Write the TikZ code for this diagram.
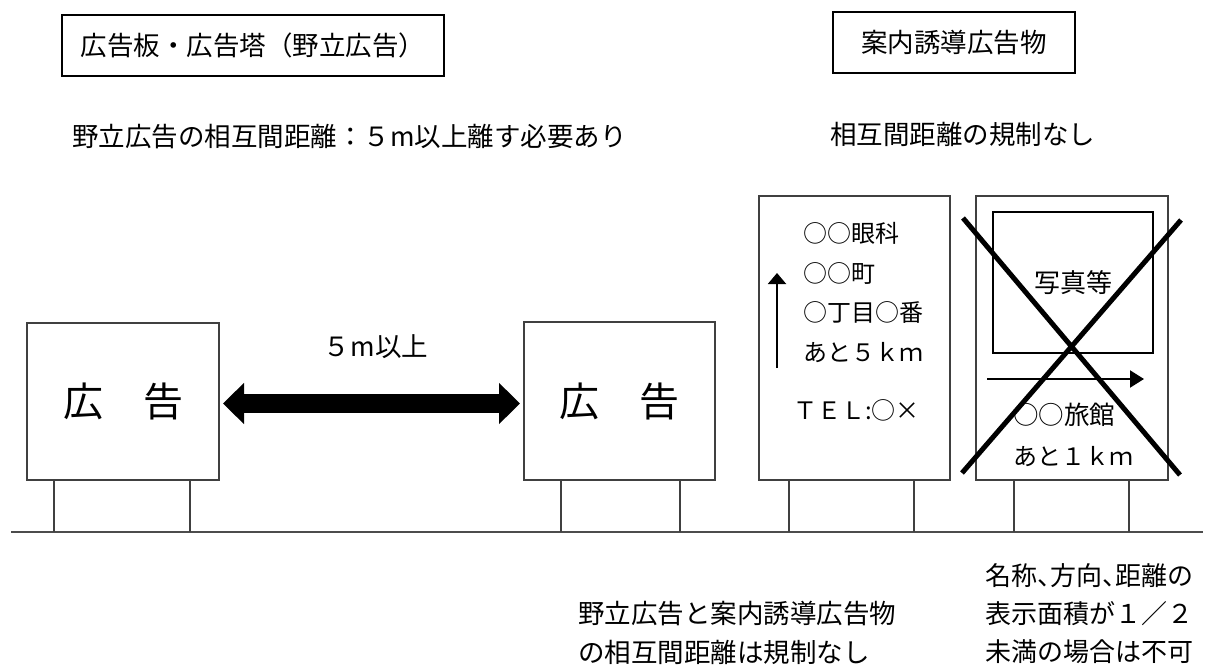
\documentclass[tikz,border=0pt]{standalone}
\usepackage{fontspec}
\setmainfont{Noto Sans CJK JP}
\usetikzlibrary{arrows.meta}
\begin{document}
\begin{tikzpicture}[x=1pt,y=-1pt,
  titlebox/.style={draw=black,line width=2pt,inner sep=0pt,font=\fontsize{26.5}{30}\selectfont},
  board/.style={draw=black!75,line width=1.3pt,inner sep=0pt},
  leg/.style={draw=black!75,line width=1.2pt},
  txt/.style={inner sep=0pt,font=\fontsize{26.5}{30}\selectfont},
  signtxt/.style={inner sep=0pt,font=\fontsize{24}{28}\selectfont,anchor=west},
  bigtxt/.style={inner sep=0pt,font=\fontsize{40}{44}\selectfont},
  thin arrow/.style={line width=2pt}]
\useasboundingbox (0,0) rectangle (1209,671);
% title boxes
\node[titlebox,minimum width=382pt,minimum height=61pt] (t1) at (253,45.5) {広告板・広告塔（野立広告）};
\node[titlebox,minimum width=242pt,minimum height=61pt] (t2) at (954,42.5) {案内誘導広告物};
\node[txt,anchor=west] (h1) at (72,137) {野立広告の相互間距離：５m以上離す必要あり};
\node[txt,anchor=west] (h2) at (830,134) {相互間距離の規制なし};
% ground
\coordinate (g0) at (11,532);
\coordinate (g1) at (1203,532);
\draw[draw=black!70,line width=1.5pt] (g0) -- (g1);
% sign 1
\node[board,minimum width=192pt,minimum height=157pt] (s1) at (123,401.5) {};
\node[bigtxt] at (s1.center) {広　告};
\draw[leg] (54,480) -- (54,532) (190,480) -- (190,532);
% sign 2
\node[board,minimum width=191pt,minimum height=158pt] (s2) at (619.5,401) {};
\node[bigtxt] at (s2.center) {広　告};
\draw[leg] (561,480) -- (561,532) (680,480) -- (680,532);
% double arrow
\coordinate (aL) at (223,403.5);
\coordinate (aR) at (520,403.5);
\draw[line width=19pt,{Triangle[length=21pt,width=40pt]}-{Triangle[length=21pt,width=40pt]}] (aL) -- (aR);
\node[txt] (d) at (376,347) {５m以上};
% sign 3
\node[board,minimum width=191pt,minimum height=284pt] (s3) at (854.5,338) {};
\draw[leg] (789,480) -- (789,532) (914,480) -- (914,532);
\node[signtxt] (l1) at (803,233) {○○眼科};
\node[signtxt] (l2) at (803,273) {○○町};
\node[signtxt] (l3) at (803,313) {○丁目○番};
\node[signtxt] (l4) at (803,353) {あと５ｋｍ};
\node[signtxt] (l5) at (793,410) {ＴＥＬ:○×};
\coordinate (u0) at (777,368);
\coordinate (u1) at (777,273);
\draw[thin arrow,-{Triangle[length=11pt,width=18pt]}] (u0) -- (u1);
% sign 4
\node[board,minimum width=192pt,minimum height=284pt] (s4) at (1072,338) {};
\draw[leg] (1014,480) -- (1014,532) (1129,480) -- (1129,532);
\node[draw=black,line width=2pt,minimum width=160pt,minimum height=141pt,inner sep=0pt] (ph) at (1073,282.5) {};
\node[txt,font=\fontsize{26}{30}\selectfont] (ph t) at (1073,283) {写真等};
\coordinate (r0) at (987,379);
\coordinate (r1) at (1144,379);
\draw[thin arrow,-{Triangle[length=14pt,width=17pt]}] (r0) -- (r1);
\node[signtxt,font=\fontsize{25.5}{28}\selectfont] (m1) at (1013,415) {○○旅館};
\node[signtxt] (m2) at (1013,457) {あと１ｋｍ};
\coordinate (x1) at (963,218);
\coordinate (x2) at (1180,475);
\coordinate (x3) at (1181,220);
\coordinate (x4) at (962,473);
\draw[line width=5pt] (x1) -- (x2) (x3) -- (x4);
% bottom notes
\node[txt,anchor=west] (b1) at (578,614) {野立広告と案内誘導広告物};
\node[txt,anchor=west] (b2) at (578,652) {の相互間距離は規制なし};
\node[txt,anchor=west,font=\fontsize{26}{30}\selectfont] (c1) at (985,576) {名称、\kern-.5em方向、\kern-.5em距離の};
\node[txt,anchor=west,font=\fontsize{26}{30}\selectfont] (c2) at (985,614) {表示面積が１／２};
\node[txt,anchor=west,font=\fontsize{26}{30}\selectfont] (c3) at (985,652) {未満の場合は不可};
\end{tikzpicture}
\end{document}
